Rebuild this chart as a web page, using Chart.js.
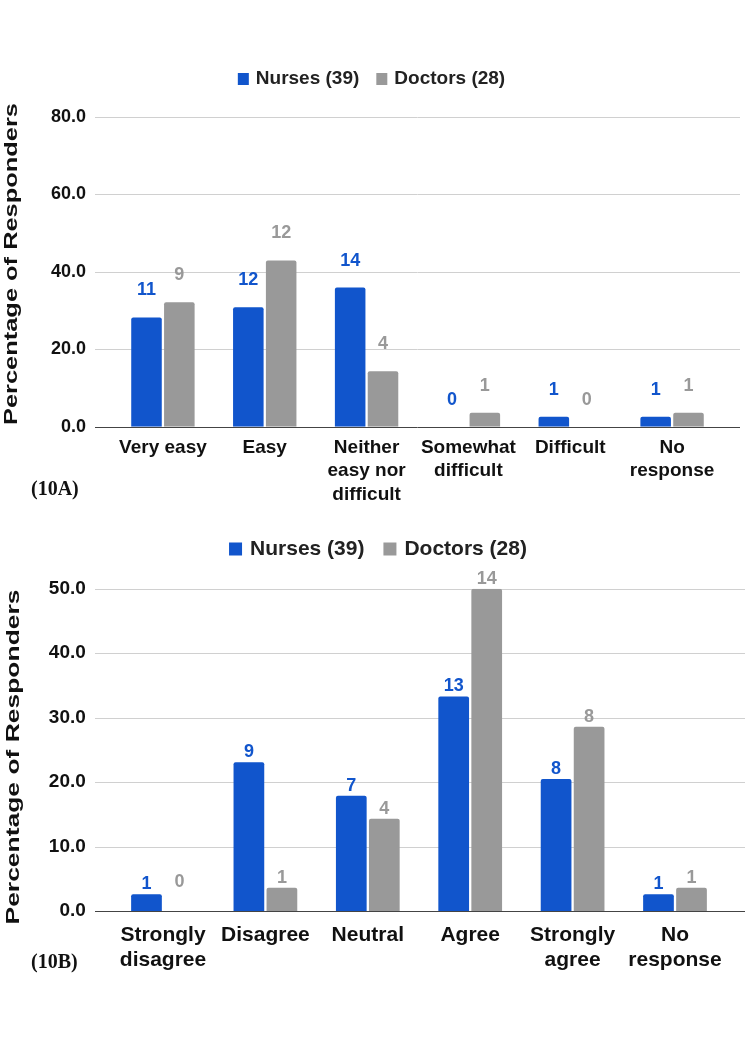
<!DOCTYPE html>
<html><head><meta charset="utf-8">
<script src="https://cdn.jsdelivr.net/npm/chart.js@4.4.1/dist/chart.umd.min.js"></script>
<style>
html,body{margin:0;padding:0;background:#fff;width:750px;height:1061px;overflow:hidden;}
#wrapA{position:absolute;left:0;top:0;width:750px;height:505px;}
#wrapB{position:absolute;left:0;top:505px;width:750px;height:556px;}
.fig{position:absolute;font-family:"Liberation Serif","Times New Roman",serif;font-weight:bold;font-size:20px;color:#111;line-height:1;}
</style></head><body>
<div id="wrapA"><canvas id="chartA" width="750" height="505"></canvas></div>
<div id="wrapB"><canvas id="chartB" width="750" height="556"></canvas></div>
<div class="fig" style="left:31px;top:478px">(10A)</div>
<div class="fig" style="left:31px;top:951px">(10B)</div>
<script>
// ---- data ----
const seriesNames = ['Nurses (39)', 'Doctors (28)'];
const yTitle = 'Percentage of Responders';

const categoriesA = ['Very easy', 'Easy', ['Neither', 'easy nor', 'difficult'], ['Somewhat', 'difficult'], 'Difficult', ['No', 'response']];
const nursesA = [28.2, 30.8, 35.9, 0, 2.6, 2.6];
const doctorsA = [32.1, 42.9, 14.3, 3.6, 0, 3.6];
const nurseCountsA = [11, 12, 14, 0, 1, 1];
const doctorCountsA = [9, 12, 4, 1, 0, 1];
const yTicksA = {min: 0, max: 80, step: 20};

const categoriesB = [['Strongly', 'disagree'], 'Disagree', 'Neutral', 'Agree', ['Strongly', 'agree'], ['No', 'response']];
const nursesB = [2.6, 23.1, 17.9, 33.3, 20.5, 2.6];
const doctorsB = [0, 3.6, 14.3, 50.0, 28.6, 3.6];
const nurseCountsB = [1, 9, 7, 13, 8, 1];
const doctorCountsB = [0, 1, 4, 14, 8, 1];
const yTicksB = {min: 0, max: 50, step: 10};

// ---- styles ----
const FONT = '"Liberation Sans", Arial, Helvetica, sans-serif';
const BLUE = '#1155cc';
const GRAY = '#999999';
const TEXT = '#111111';

const deco = {
  id: 'deco',
  beforeDatasetsDraw(chart, args, o) {
    const ctx = chart.ctx, y = chart.scales.y;
    ctx.save();
    ctx.lineWidth = 1;
    y.ticks.forEach(t => {
      if (t.value === 0) return;
      const py = Math.round(y.getPixelForValue(t.value)) + 0.5;
      ctx.strokeStyle = o.gridColor;
      ctx.beginPath(); ctx.moveTo(o.gridLeft, py); ctx.lineTo(o.gridRight, py); ctx.stroke();
    });
    ctx.restore();
  },
  afterDatasetsDraw(chart, args, o) {
    const ctx = chart.ctx, y = chart.scales.y;
    ctx.save();
    const base = y.getPixelForValue(0);
    const pz = Math.round(base) + 0.5;
    ctx.strokeStyle = o.zeroColor; ctx.lineWidth = 1;
    ctx.beginPath(); ctx.moveTo(o.gridLeft, pz); ctx.lineTo(o.gridRight, pz); ctx.stroke();
    ctx.font = `bold ${o.labelSize}px ${FONT}`;
    ctx.textAlign = 'center'; ctx.textBaseline = 'alphabetic';
    chart.data.datasets.forEach((ds, i) => {
      const meta = chart.getDatasetMeta(i);
      meta.data.forEach((bar, j) => {
        const v = ds.data[j];
        const yy = v === 0 ? base - o.zeroOffset : bar.y - o.labelOffset;
        ctx.fillStyle = ds.backgroundColor;
        ctx.fillText(String(o.counts[i][j]), bar.x, yy);
      });
    });
    ctx.restore();
  },
  afterDraw(chart, args, o) {
    const ctx = chart.ctx;
    const L = o.legend;
    ctx.save();
    ctx.font = `bold ${L.size}px ${FONT}`;
    const items = chart.data.datasets.map(d => ({text: d.label, color: d.backgroundColor, w: ctx.measureText(d.label).width}));
    const total = items.reduce((s, it) => s + L.box + L.boxGap + it.w, 0) + L.itemGap * (items.length - 1);
    let x = L.cx - total / 2;
    items.forEach(it => {
      ctx.fillStyle = it.color;
      ctx.fillRect(x, L.cy - L.boxH / 2, L.box, L.boxH);
      x += L.box + L.boxGap;
      ctx.fillStyle = '#222';
      ctx.textAlign = 'left'; ctx.textBaseline = 'middle';
      ctx.fillText(it.text, x, L.cy);
      x += it.w + L.itemGap;
    });
    ctx.restore();
    const T = o.title;
    ctx.save();
    ctx.font = `bold ${T.size}px ${FONT}`;
    const w = ctx.measureText(T.text).width;
    ctx.translate(T.x, T.cy);
    ctx.rotate(-Math.PI / 2);
    ctx.scale(T.length / w, 1);
    ctx.textAlign = 'center'; ctx.textBaseline = 'middle';
    ctx.fillStyle = TEXT;
    ctx.fillText(T.text, 0, 0);
    ctx.restore();
  }
};

function makeChart(id, cats, nurses, doctors, nCounts, dCounts, yt, s) {
  return new Chart(document.getElementById(id), {
    type: 'bar',
    data: {
      labels: cats,
      datasets: [
        {label: seriesNames[0], data: nurses, backgroundColor: BLUE},
        {label: seriesNames[1], data: doctors, backgroundColor: GRAY}
      ]
    },
    options: {
      responsive: false,
      animation: false,
      devicePixelRatio: 1,
      layout: {padding: {top: s.padTop, right: s.padRight, left: 0, bottom: 0}},
      datasets: {bar: {categoryPercentage: 0.645, barPercentage: 0.93, borderRadius: 2, borderSkipped: 'start'}},
      plugins: {
        legend: {display: false},
        tooltip: {enabled: false},
        deco: {
          gridColor: '#d0d0d0', zeroColor: '#444444',
          gridLeft: s.gridLeft, gridRight: s.gridRight,
          labelSize: s.labelSize, labelOffset: s.labelOffset, zeroOffset: s.zeroOffset,
          counts: [nCounts, dCounts],
          legend: s.legend,
          title: Object.assign({text: yTitle}, s.title)
        }
      },
      scales: {
        x: {
          type: 'category', offset: true,
          grid: {display: false, drawTicks: false}, border: {display: false},
          ticks: {autoSkip: false, maxRotation: 0, minRotation: 0, color: TEXT, padding: s.xPad,
            font: {family: FONT, size: s.xSize, weight: 'bold', lineHeight: s.xLine + 'px'}},
          afterFit(sc) { sc.height = s.xHeight; }
        },
        y: {
          min: yt.min, max: yt.max,
          grid: {display: false, drawTicks: false}, border: {display: false},
          ticks: {stepSize: yt.step, padding: s.yPad, color: TEXT,
            font: {family: FONT, size: s.ySize, weight: 'bold'},
            callback: v => Number(v).toFixed(1)},
          afterFit(sc) { sc.width = s.yWidth; }
        }
      }
    },
    plugins: [deco]
  });
}

makeChart('chartA', categoriesA, nursesA, doctorsA, nurseCountsA, doctorCountsA, yTicksA, {
  padTop: 116.7, padRight: 27, xHeight: 78.3, yWidth: 112, yPad: 26, ySize: 18,
  xSize: 19, xLine: 23.5, xPad: 9,
  gridLeft: 95, gridRight: 740,
  labelSize: 18, labelOffset: 22, zeroOffset: 22,
  legend: {cx: 371.5, cy: 79, size: 19, box: 11, boxH: 12, boxGap: 7, itemGap: 17},
  title: {x: 12, cy: 264, length: 322, size: 18}
});

makeChart('chartB', categoriesB, nursesB, doctorsB, nurseCountsB, doctorCountsB, yTicksB, {
  padTop: 83.8, padRight: 23.8, xHeight: 150, yWidth: 111.8, yPad: 26, ySize: 19,
  xSize: 21, xLine: 25, xPad: 12,
  gridLeft: 95, gridRight: 745,
  labelSize: 18, labelOffset: 5, zeroOffset: 24,
  legend: {cx: 378, cy: 44, size: 21, box: 13, boxH: 13, boxGap: 8, itemGap: 19},
  title: {x: 14, cy: 252, length: 335, size: 19}
});
</script>
</body></html>
